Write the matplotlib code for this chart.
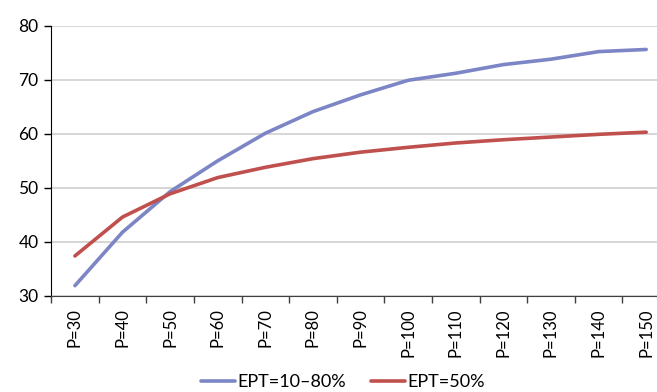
import matplotlib.pyplot as plt
import numpy as np

plt.rcParams['font.family'] = ['Lato', 'DejaVu Sans']

etiquetas = ['P=30', 'P=40', 'P=50', 'P=60', 'P=70', 'P=80', 'P=90',
             'P=100', 'P=110', 'P=120', 'P=130', 'P=140', 'P=150']
ept_rango = [31.9, 41.8, 49.3, 55.0, 60.1, 64.1, 67.2, 69.9, 71.2, 72.8, 73.8, 75.2, 75.6]
ept_50 = [37.4, 44.6, 48.9, 51.9, 53.8, 55.4, 56.6, 57.5, 58.3, 58.9, 59.4, 59.9, 60.3]

fig = plt.figure(figsize=(6.57, 3.92), dpi=100)
ax = fig.add_axes([0.0778, 0.245, 0.942, 0.6895])

x = np.arange(len(etiquetas))
ax.plot(x, ept_rango, color='#7c85c5', lw=2.6, solid_capstyle='round', label='EPT=10–80%')
ax.plot(x, ept_50, color='#c0504d', lw=2.6, solid_capstyle='round', label='EPT=50%')

ax.set_xlim(-0.5, len(etiquetas) - 0.5)
ax.set_ylim(30, 80)
ax.set_yticks(np.arange(30, 81, 10))
ax.tick_params(axis='y', labelsize=12.5, length=5, width=1, direction='out', pad=4)

# etiquetas centradas, marcas entre categorias
ax.set_xticks(x)
ax.set_xticklabels(etiquetas, rotation=90, fontsize=12, va='top', ha='center')
ax.set_xticks(np.arange(-0.5, len(etiquetas)), minor=True)
ax.tick_params(axis='x', which='major', length=0, pad=9)
ax.tick_params(axis='x', which='minor', length=5, width=1, color='#404040')

ax.grid(axis='y', color='#cfcfcf', lw=1.2)
ax.set_axisbelow(True)
for lado in ['top', 'right']:
    ax.spines[lado].set_visible(False)
ax.spines['left'].set_color('#000000')
ax.spines['bottom'].set_color('#404040')

fig.legend(loc='lower center', bbox_to_anchor=(0.522, -0.036), ncol=2, frameon=False,
           fontsize=13, handlelength=1.9, handletextpad=0.1, columnspacing=1.4)

plt.savefig('out.png', dpi=100)
